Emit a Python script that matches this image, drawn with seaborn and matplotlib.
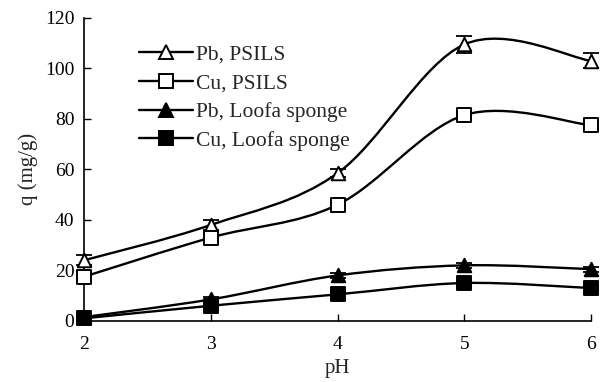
import matplotlib
matplotlib.use("Agg")
import matplotlib.pyplot as plt
import seaborn as sns
import numpy as np
import pandas as pd
from matplotlib.path import Path
from matplotlib.patches import PathPatch
from matplotlib.lines import Line2D

ph = [2, 3, 4, 5, 6]
pb_psils = [24, 38, 58.5, 109.5, 103]
cu_psils = [17.5, 33, 46, 81.5, 77.5]
pb_loofa = [1.5, 8.5, 18, 22, 20.5]
cu_loofa = [1, 6, 10.5, 15, 13]
pb_psils_err = [2, 2, 1.5, 3.5, 3]
cu_psils_err = [2, 2, 1.5, 1.5, 1.5]
pb_loofa_err = [1, 1, 1, 1, 1]
cu_loofa_err = [1, 1, 1, 1, 1]

labels = ["Pb, PSILS", "Cu, PSILS", "Pb, Loofa sponge", "Cu, Loofa sponge"]
series = [pb_psils, cu_psils, pb_loofa, cu_loofa]
errors = [pb_psils_err, cu_psils_err, pb_loofa_err, cu_loofa_err]
markers = ["^", "s", "^", "s"]
faces = ["white", "white", "black", "black"]

sns.set_style("ticks")
plt.rcParams["font.family"] = ["Liberation Serif", "DejaVu Serif"]

rows = []
for lab, ys in zip(labels, series):
    for x, y in zip(ph, ys):
        rows.append({"pH": x, "q": y, "series": lab})
df = pd.DataFrame(rows)

fig = plt.figure(figsize=(6, 3.82), dpi=100)
ax = fig.add_axes([0.14, 0.16, 0.845, 0.793])


def smooth_path(xs, ys):
    # bezier segments with catmull-rom style control points (excel-like smoothing)
    xs = np.asarray(xs, float)
    ys = np.asarray(ys, float)
    n = len(xs)
    verts = [(xs[0], ys[0])]
    codes = [Path.MOVETO]
    for i in range(n - 1):
        p0 = (xs[max(i - 1, 0)], ys[max(i - 1, 0)])
        p1 = (xs[i], ys[i])
        p2 = (xs[i + 1], ys[i + 1])
        p3 = (xs[min(i + 2, n - 1)], ys[min(i + 2, n - 1)])
        c1 = (p1[0] + (p2[0] - p0[0]) / 6, p1[1] + (p2[1] - p0[1]) / 6)
        c2 = (p2[0] - (p3[0] - p1[0]) / 6, p2[1] - (p3[1] - p1[1]) / 6)
        verts += [c1, c2, p2]
        codes += [Path.CURVE4] * 3
    return Path(verts, codes)


handles = []
for lab, ys, err, m, fc in zip(labels, series, errors, markers, faces):
    ax.add_patch(PathPatch(smooth_path(ph, ys), fill=False, edgecolor="black",
                           lw=1.7, clip_on=False))
    ax.errorbar(ph, ys, yerr=err, fmt="none", ecolor="black", elinewidth=1,
                capsize=5.5, capthick=1.3, clip_on=False)
    sub = df[df["series"] == lab]
    sns.scatterplot(data=sub, x="pH", y="q", marker=m, s=95, color=fc,
                    edgecolor="black", linewidth=1.4, ax=ax, clip_on=False,
                    zorder=5, legend=False)
    handles.append(Line2D([], [], color="black", lw=1.7, marker=m, ms=10,
                          mfc=fc, mec="black", mew=1.4, label=lab))

ax.set_xlim(2, 6)
ax.set_ylim(0, 120)
ax.set_xticks(ph)
ax.set_yticks(range(0, 121, 20))
ax.tick_params(direction="in", length=5, width=1, labelsize=14, colors="black")
ax.tick_params(axis="x", pad=11)
ax.tick_params(axis="y", pad=7)
for s in ["left", "bottom"]:
    ax.spines[s].set_linewidth(1.2)
    ax.spines[s].set_color("black")
sns.despine(ax=ax)
ax.set_xlabel("pH", fontsize=15, labelpad=4)
ax.set_ylabel("q (mg/g)", fontsize=15, labelpad=5)

ax.legend(handles=handles, loc="upper left", bbox_to_anchor=(0.091, 0.94),
          frameon=False, fontsize=15.5, handlelength=2.5, handletextpad=0.15,
          labelspacing=0.4, borderaxespad=0)

fig.savefig("out.png", dpi=100)
